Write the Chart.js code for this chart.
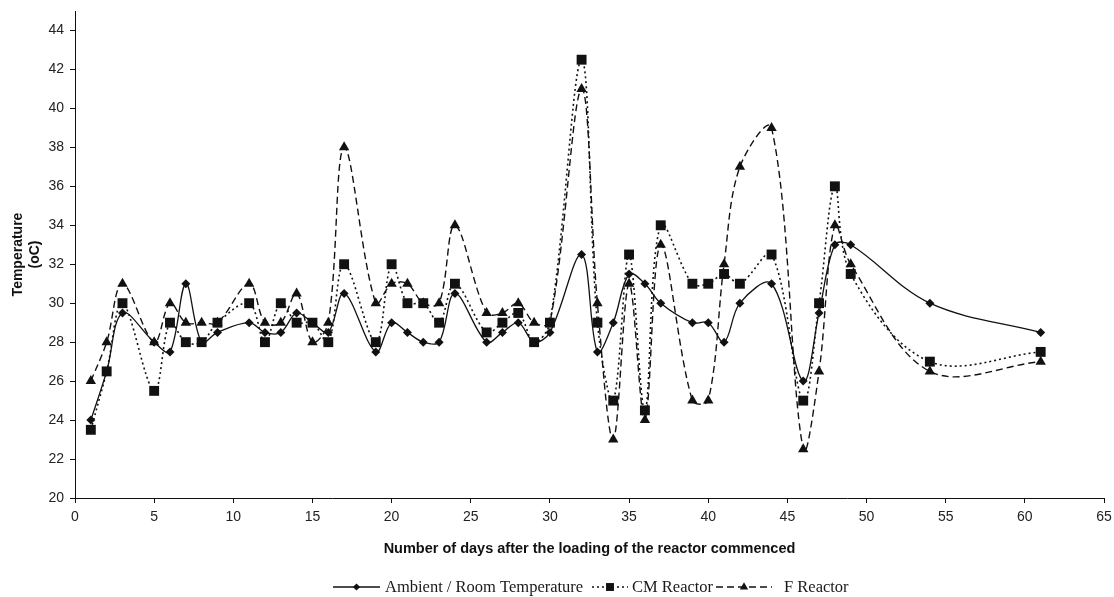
<!DOCTYPE html>
<html>
<head>
<meta charset="utf-8">
<title>Reactor temperature</title>
<script src="https://cdn.jsdelivr.net/npm/chart.js"></script>
<style>
html,body{margin:0;padding:0;background:#fff;}
canvas{display:block;}
</style>
</head>
<body>
<canvas id="tempChart" width="1114" height="597"></canvas>
<script>
// days on which readings were taken
const days=[1,2,3,5,6,7,8,9,11,12,13,14,15,16,17,19,20,21,22,23,24,26,27,28,29,30,32,33,34,35,36,37,39,40,41,42,44,46,47,48,49,54,61];

// temperatures (oC)
const ambient=[24,26.5,29.5,28,27.5,31,28,28.5,29,28.5,28.5,29.5,29,28.5,30.5,27.5,29,28.5,28,28,30.5,28,28.5,29,28,28.5,32.5,27.5,29,31.5,31,30,29,29,28,30,31,26,29.5,33,33,30,28.5];
const cmReactor=[23.5,26.5,30,25.5,29,28,28,29,30,28,30,29,29,28,32,28,32,30,30,29,31,28.5,29,29.5,28,29,42.5,29,25,32.5,24.5,34,31,31,31.5,31,32.5,25,30,36,31.5,27,27.5];
const fReactor=[26,28,31,28,30,29,29,29,31,29,29,30.5,28,29,38,30,31,31,30,30,34,29.5,29.5,30,29,29,41,30,23,31,24,33,25,25,32,37,39,22.5,26.5,34,32,26.5,27];

const seriesNames=["Ambient / Room Temperature","CM Reactor","F Reactor"];
const xTicks=[0,5,10,15,20,25,30,35,40,45,50,55,60,65];
const yTicks=[20,22,24,26,28,30,32,34,36,38,40,42,44];

const toPoints=vals=>vals.map((v,i)=>({x:days[i],y:v}));

// legend drawn by hand so the line style shows next to the marker
const lineLegend={
  id:"lineLegend",
  afterDraw(chart){
    const ctx=chart.ctx;
    const sampleX=[333,592,716];
    const sampleW=[47,36,56];
    const textX=[385,632,784];
    const y=587;
    ctx.save();
    ctx.font='16.5px "Liberation Serif", "Times New Roman", serif';
    ctx.textBaseline="middle";
    ctx.textAlign="left";
    chart.data.datasets.forEach((ds,i)=>{
      const x=sampleX[i];
      ctx.strokeStyle=ds.borderColor;
      ctx.lineWidth=ds.borderWidth;
      ctx.setLineDash(ds.borderDash||[]);
      ctx.beginPath();
      ctx.moveTo(x,y);
      ctx.lineTo(x+sampleW[i],y);
      ctx.stroke();
      ctx.setLineDash([]);
      ctx.fillStyle=ds.pointBackgroundColor;
      Chart.helpers.drawPoint(ctx,{pointStyle:ds.pointStyle,radius:ds.pointRadius*0.8,rotation:0,borderWidth:0},x+sampleW[i]/2,y);
      ctx.fillStyle="#1a1a1a";
      ctx.fillText(ds.label,textX[i],y+1);
    });
    ctx.restore();
  }
};

const tickFont={family:'"Liberation Sans", Arial, sans-serif',size:14};

new Chart(document.getElementById("tempChart"),{
  type:"line",
  data:{
    datasets:[
      {
        label:seriesNames[0],
        data:toPoints(ambient),
        borderColor:"#111",
        borderWidth:1.3,
        pointStyle:"rectRot",
        pointRadius:4.5,
        pointBackgroundColor:"#111",
        pointBorderWidth:0,
        tension:0.35
      },
      {
        label:seriesNames[1],
        data:toPoints(cmReactor),
        borderColor:"#111",
        borderWidth:1.6,
        borderDash:[2,3],
        pointStyle:"rect",
        pointRadius:7,
        pointBackgroundColor:"#111",
        pointBorderWidth:0,
        tension:0.35
      },
      {
        label:seriesNames[2],
        data:toPoints(fReactor),
        borderColor:"#111",
        borderWidth:1.4,
        borderDash:[7,4],
        pointStyle:"triangle",
        pointRadius:6,
        pointBackgroundColor:"#111",
        pointBorderWidth:0,
        tension:0.35
      }
    ]
  },
  options:{
    responsive:false,
    animation:false,
    layout:{padding:{left:0,right:10,top:11,bottom:30}},
    plugins:{
      legend:{display:false},
      tooltip:{enabled:false}
    },
    scales:{
      x:{
        type:"linear",
        min:0,
        max:65,
        afterBuildTicks:axis=>{axis.ticks=xTicks.map(v=>({value:v}));},
        afterFit:scale=>{scale.height=69;scale.paddingLeft=0;scale.paddingRight=0;},
        grid:{drawOnChartArea:false,drawTicks:true,tickLength:5,color:"#111"},
        border:{display:true,color:"#111",width:1},
        ticks:{font:tickFont,color:"#222",padding:6,maxRotation:0},
        title:{
          display:true,
          text:"Number of days after the loading of the reactor commenced",
          font:{family:'"Liberation Sans", Arial, sans-serif',size:14.5,weight:"bold"},
          color:"#111",
          padding:{top:4,bottom:9}
        }
      },
      y:{
        min:20,
        max:45,
        afterBuildTicks:axis=>{axis.ticks=yTicks.map(v=>({value:v}));},
        afterFit:scale=>{scale.width=75;scale.paddingTop=0;scale.paddingBottom=0;},
        grid:{drawOnChartArea:false,drawTicks:true,tickLength:5,color:"#111"},
        border:{display:true,color:"#111",width:1},
        ticks:{font:tickFont,color:"#222",padding:6},
        title:{
          display:true,
          text:["Temperature","(oC)"],
          font:{family:'"Liberation Sans", Arial, sans-serif',size:14,weight:"bold"},
          color:"#111",
          padding:{top:10,bottom:0}
        }
      }
    }
  },
  plugins:[lineLegend]
});
</script>
</body>
</html>
